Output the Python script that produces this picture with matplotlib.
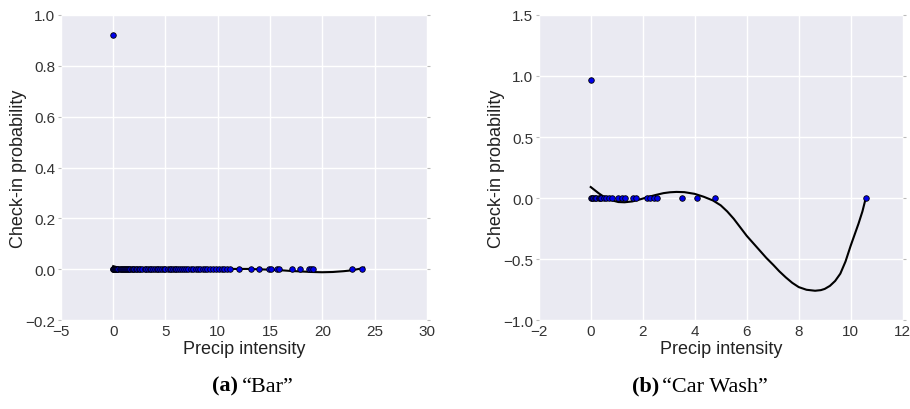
import matplotlib
matplotlib.use("Agg")
import matplotlib.pyplot as plt

# "Bar" panel: precip intensity vs check-in probability
bar_x = [0.0, 0.02, 0.05, 0.08, 0.1, 0.15, 0.2, 0.25, 0.3, 0.35, 0.4, 0.5, 0.6, 0.7,
         0.8, 0.9, 1.0, 1.1, 1.2, 1.3, 1.4, 1.5, 1.6, 1.8, 1.9, 2.0, 2.2, 2.3, 2.5,
         2.6, 2.8, 3.0, 3.1, 3.3, 3.5, 3.6, 3.8, 4.0, 4.2, 4.3, 4.5, 4.7, 4.9, 5.0,
         5.2, 5.4, 5.5, 5.7, 5.9, 6.0, 6.2, 6.4, 6.6, 6.8, 7.0, 7.2, 7.4, 7.6, 7.9,
         8.1, 8.3, 8.6, 8.8, 9.0, 9.3, 9.5, 9.8, 10.1, 10.4, 10.6, 10.9, 11.2, 12.0,
         13.2, 13.9, 14.9, 15.1, 15.7, 15.9, 17.1, 17.9, 18.75, 18.9, 19.1, 22.8, 23.8, 0.0]
bar_y = [0.0] * 86 + [0.92]

# polynomial fit curve
bar_fit_x = [0.0, 0.5, 1.0, 2.0, 3.0, 6.0, 10.0, 13.0, 15.0, 16.0, 17.0, 18.0, 19.0,
             20.0, 21.0, 22.0, 22.5, 23.0, 23.5, 24.0]
bar_fit_y = [0.012, 0.006, 0.003, 0.001, 0.0, 0.0, 0.001, 0.001, -0.002, -0.004, -0.007,
             -0.009, -0.011, -0.012, -0.011, -0.008, -0.006, -0.003, 0.001, 0.006]

# "Car Wash" panel
car_x = [0.0, 0.05, 0.1, 0.15, 0.2, 0.3, 0.35, 0.4, 0.5, 0.6, 0.7, 0.8, 1.06, 1.19, 1.32,
         1.62, 1.74, 2.15, 2.28, 2.45, 2.56, 3.51, 4.09, 4.77, 10.58, 0.0]
car_y = [0.0] * 25 + [0.97]

car_fit_x = [0.0, 0.15, 0.3, 0.45, 0.6, 0.8, 1.06, 1.3, 1.6, 1.9, 2.2, 2.5, 2.8, 3.05,
             3.3, 3.6, 4.0, 4.35, 4.7, 5.0, 5.25, 5.5, 5.75, 6.0, 6.25, 6.5, 6.75, 7.03,
             7.25, 7.5, 7.75, 8.0, 8.3, 8.63, 8.85, 9.0, 9.2, 9.4, 9.6, 9.8, 10.0, 10.15,
             10.3, 10.45, 10.58]
car_fit_y = [0.09, 0.065, 0.04, 0.018, 0.0, -0.018, -0.033, -0.035, -0.028, -0.011, 0.008,
             0.025, 0.04, 0.047, 0.05, 0.048, 0.034, 0.01, -0.02, -0.06, -0.11, -0.17,
             -0.24, -0.31, -0.37, -0.43, -0.49, -0.55, -0.6, -0.65, -0.695, -0.73, -0.752,
             -0.76, -0.755, -0.745, -0.72, -0.68, -0.62, -0.52, -0.39, -0.3, -0.21,
             -0.11, 0.0]

bg = "#EAEAF2"
plt.rcParams["font.family"] = ["Liberation Sans", "DejaVu Sans"]

fig = plt.figure(figsize=(9.1, 4.1), dpi=100)
ax1 = fig.add_axes([0.067, 0.217, 0.402, 0.744])
ax2 = fig.add_axes([0.592, 0.217, 0.400, 0.744])

panels = [
    (ax1, bar_x, bar_y, bar_fit_x, bar_fit_y, (-5, 30), (-0.2, 1.0),
     [-5, 0, 5, 10, 15, 20, 25, 30], [-0.2, 0.0, 0.2, 0.4, 0.6, 0.8, 1.0]),
    (ax2, car_x, car_y, car_fit_x, car_fit_y, (-2, 12), (-1.0, 1.5),
     [-2, 0, 2, 4, 6, 8, 10, 12], [-1.0, -0.5, 0.0, 0.5, 1.0, 1.5]),
]

for ax, x, y, fx, fy, xl, yl, xt, yt in panels:
    ax.set_facecolor(bg)
    for s in ax.spines.values():
        s.set_visible(False)
    ax.grid(True, color="white", linewidth=1.0)
    ax.set_axisbelow(True)
    ax.plot(fx, fy, color="black", linewidth=1.5, zorder=2)
    ax.scatter(x, y, s=16, color="#0000ee", edgecolors="black", linewidths=0.6, zorder=3)
    ax.set_xlim(*xl)
    ax.set_ylim(*yl)
    ax.set_xticks(xt)
    ax.set_yticks(yt)
    ax.set_xticklabels(["\u2212%g" % -v if v < 0 else "%g" % v for v in xt])
    ax.set_yticklabels(["\u2212%.1f" % -v if v < 0 else "%.1f" % v for v in yt])
    ax.tick_params(axis="both", which="both", direction="out", width=0.8,
                   color="#bbbbbb", labelcolor="#333333", labelsize=11)
    ax.tick_params(axis="x", length=0, pad=3)
    ax.tick_params(axis="y", length=2, pad=2, right=True)
    ax.set_xlabel("Precip intensity", fontsize=13, color="#222222", labelpad=1)
    ax.set_ylabel("Check-in probability", fontsize=13, color="#222222")
    ax.yaxis.set_label_coords(-0.093, 0.5)

capfont = ["Liberation Serif", "DejaVu Serif"]
fig.text(0.262, 0.045, "(a)", fontsize=16, fontweight="bold", family=capfont, ha="right")
fig.text(0.266, 0.045, "\u201cBar\u201d", fontsize=16, family=capfont, ha="left")
fig.text(0.724, 0.045, "(b)", fontsize=16, fontweight="bold", family=capfont, ha="right")
fig.text(0.728, 0.045, "\u201cCar Wash\u201d", fontsize=16, family=capfont, ha="left")

fig.savefig("out.png", dpi=100, facecolor="white")
